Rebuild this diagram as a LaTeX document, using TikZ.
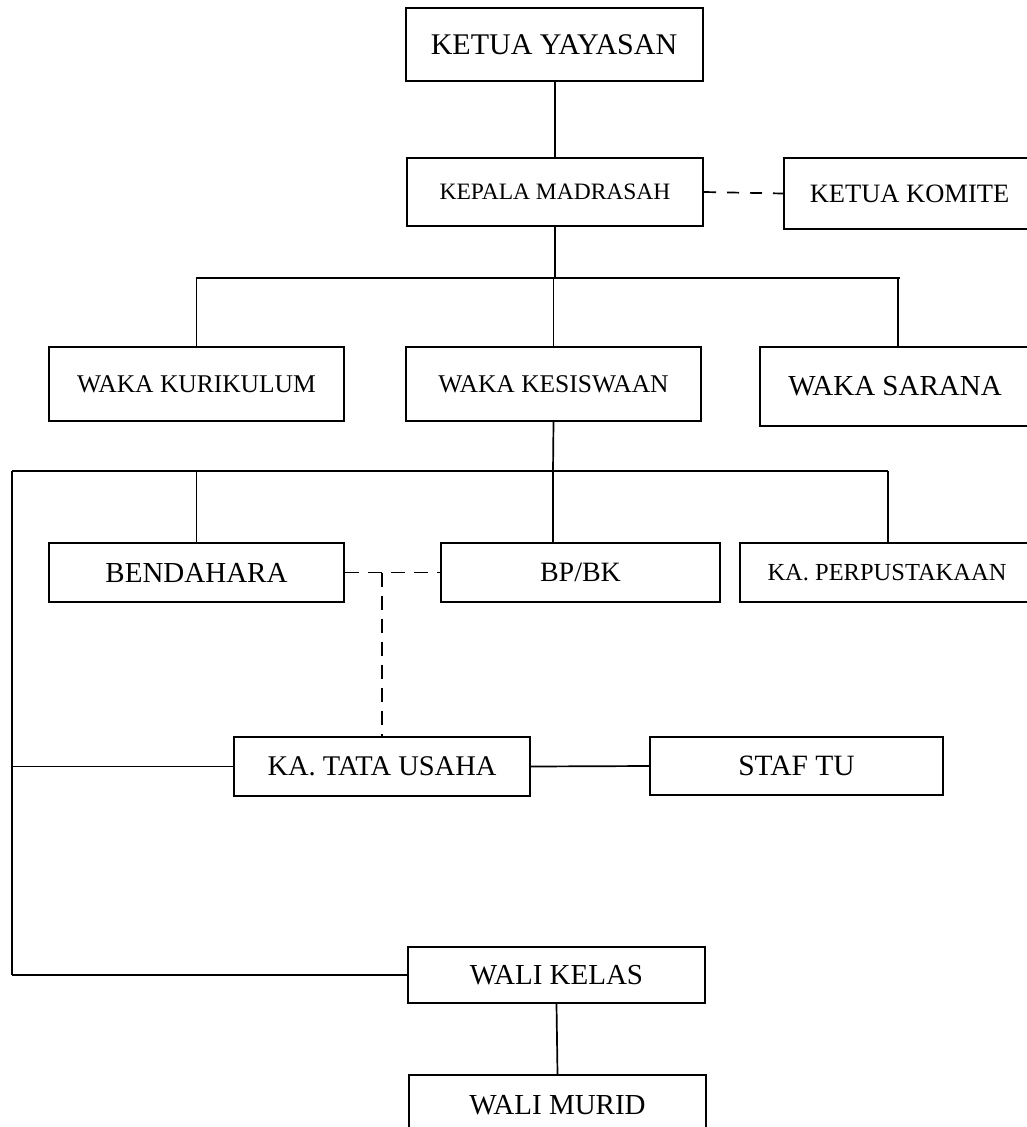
\documentclass[tikz,border=0pt]{standalone}
\usepackage{fontspec}
\setmainfont{Liberation Serif}
\begin{document}
\begin{tikzpicture}[x=1pt,y=-1pt,
  box/.style={draw, line width=2pt, inner sep=0pt, align=center},
  conn/.style={line width=1.7pt},
  dsh/.style={line width=1.7pt, dash pattern=on 12pt off 11pt},
  dshb/.style={line width=1.7pt, dash pattern=on 14pt off 9pt},
  fs/.style={font=\fontsize{#1}{#1}\selectfont}]
\useasboundingbox (0,0) rectangle (1027,1127);
\fill[white] (0,0) rectangle (1027,1127);
\clip (0,0) rectangle (1027,1127);
% nodes
\node[box, fs=30, minimum width=297pt, minimum height=73pt] (ky) at (554,44.5) {KETUA YAYASAN};
\node[box, fs=23.5, minimum width=296pt, minimum height=68pt] (km) at (555,192) {KEPALA MADRASAH};
\node[box, fs=26.5, minimum width=251pt, minimum height=71pt] (kk) at (909.5,193.5) {KETUA KOMITE};
\node[box, fs=25.5, minimum width=295pt, minimum height=74pt] (wkur) at (196.5,384) {WAKA KURIKULUM};
\node[box, fs=25.5, minimum width=295pt, minimum height=74pt] (wkes) at (553.5,384) {WAKA KESISWAAN};
\node[box, fs=29, minimum width=270pt, minimum height=79pt] (wsar) at (895,386.5) {WAKA SARANA};
\node[box, fs=29, minimum width=295pt, minimum height=59pt] (bend) at (196.5,572.5) {BENDAHARA};
\node[box, fs=28, minimum width=279pt, minimum height=59pt] (bpbk) at (580.5,572.5) {BP/BK};
\node[box, fs=24.5, minimum width=294pt, minimum height=59pt] (perp) at (887,572.5) {KA. PERPUSTAKAAN};
\node[box, fs=28.5, minimum width=296pt, minimum height=59pt] (katu) at (382,766.5) {KA. TATA USAHA};
\node[box, fs=29.5, minimum width=293pt, minimum height=58pt] (staf) at (796.5,766) {STAF TU};
\node[box, fs=29, minimum width=297pt, minimum height=56pt] (wkel) at (556.5,975) {WALI KELAS};
\node[box, fs=29, minimum width=297pt, minimum height=60pt] (wmur) at (557.5,1105) {WALI MURID};
% bus coordinates
\coordinate (b1) at (555,278);
\coordinate (b1l) at (196,278);
\coordinate (b1r) at (900,278);
\coordinate (b2) at (553,471);
\coordinate (b2l) at (12,471);
\coordinate (b2r) at (888,471);
\coordinate (dj) at (382,572.5);
% connectors
\draw[conn] (km.north |- ky.south) -- (km.north);
\draw[dsh] (km.east) -- (kk.west);
\draw[conn] (km.south) -- (b1);
\draw[conn] (b1l) -- (b1r);
\draw[conn] (wkur.north) -- (wkur.north |- b1);
\draw[conn] (wkes.north) -- (wkes.north |- b1);
\draw[conn] (898,278) -- (898,347);
\draw[conn] (wkes.south) -- (b2);
\draw[conn] (b2l) -- (b2r);
\draw[conn] (bend.north) -- (bend.north |- b2);
\draw[conn] (b2) -- (b2 |- bpbk.north);
\draw[conn] (b2r) -- (b2r |- perp.north);
\draw[conn] (b2l) -- (b2l |- wkel.west);
\draw[conn] (b2l |- katu.west) -- (katu.west);
\draw[conn] (b2l |- wkel.west) -- (wkel.west);
\draw[conn] (katu.east) -- (staf.west);
\draw[dshb] (bend.east) -- (bpbk.west);
\draw[dshb] (dj) -- (dj |- katu.north);
\draw[conn] (wkel.south) -- (wmur.north);
\end{tikzpicture}
\end{document}
